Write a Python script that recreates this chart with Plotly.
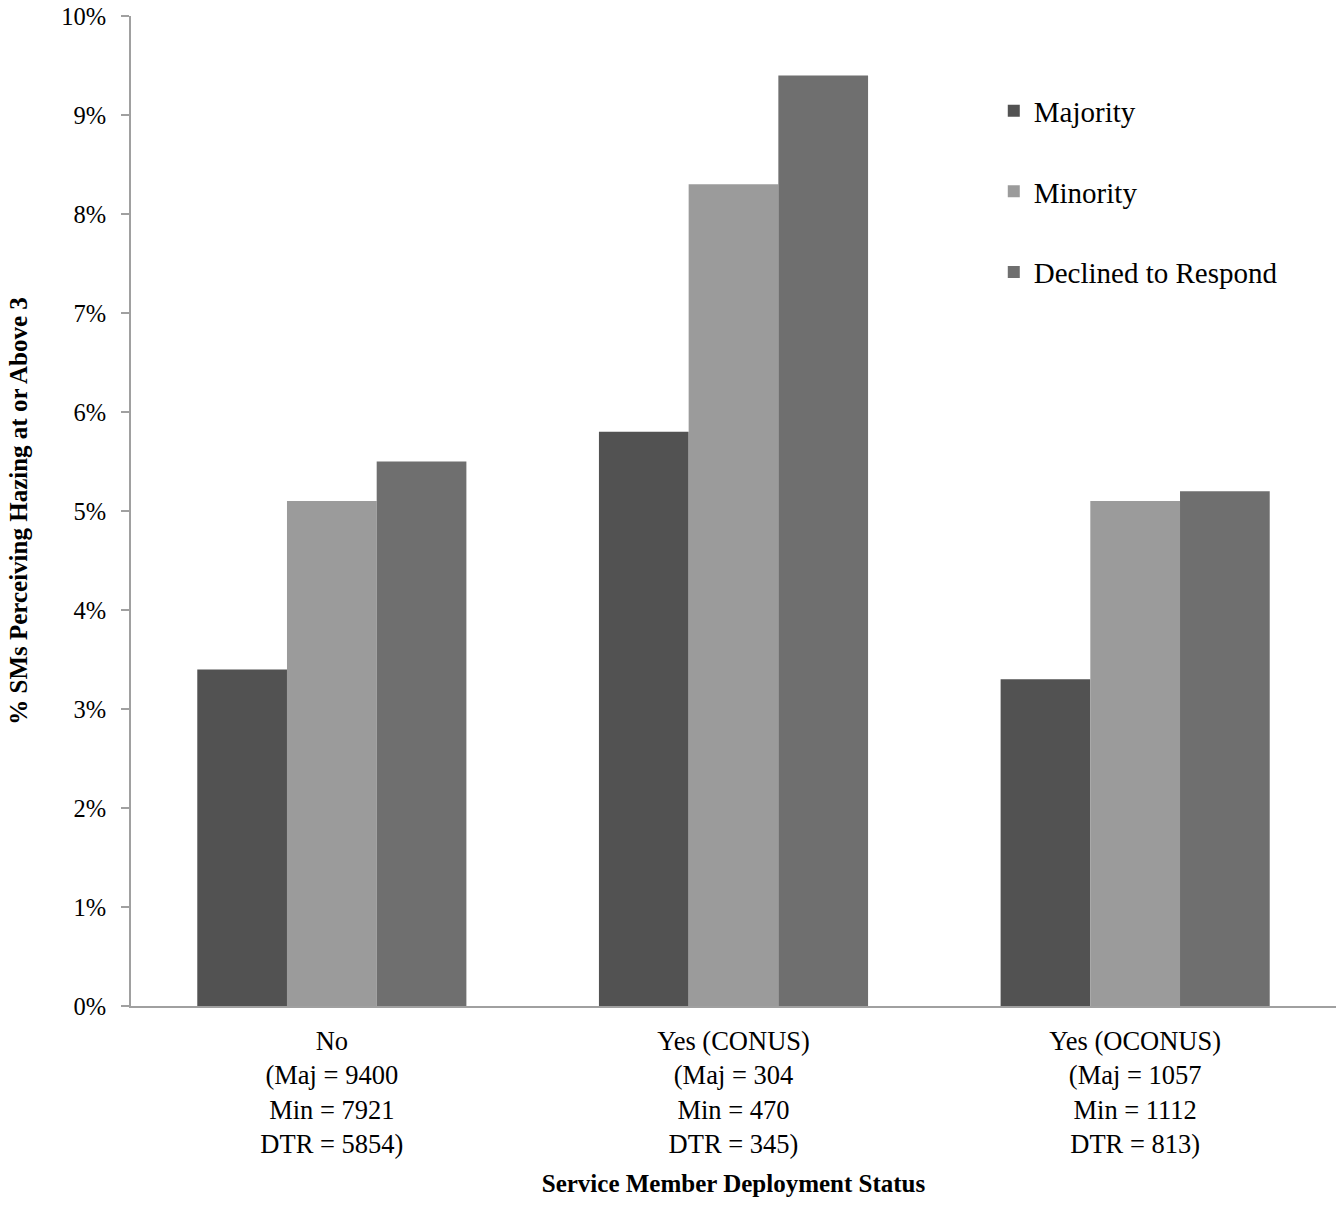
import plotly.graph_objects as go

categories = [
    "No<br>(Maj = 9400<br>Min = 7921<br>DTR = 5854)",
    "Yes (CONUS)<br>(Maj = 304<br>Min = 470<br>DTR = 345)",
    "Yes (OCONUS)<br>(Maj = 1057<br>Min = 1112<br>DTR = 813)",
]
majority = [0.034, 0.058, 0.033]
minority = [0.051, 0.083, 0.051]
declined = [0.055, 0.094, 0.052]

series_names = ["Majority", "Minority", "Declined to Respond"]
series_colors = ["#525252", "#9b9b9b", "#6f6f6f"]
tick_vals = [0, 0.01, 0.02, 0.03, 0.04, 0.05, 0.06, 0.07, 0.08, 0.09, 0.10]

FONT = "Liberation Serif, Times New Roman, serif"

fig = go.Figure()
for name, vals, col in zip(series_names, [majority, minority, declined], series_colors):
    fig.add_trace(go.Bar(
        x=categories, y=vals, name=name, legendgroup=name,
        marker=dict(color=col, line=dict(width=0)),
    ))

fig.update_layout(
    width=1336, height=1205,
    margin=dict(l=131, r=0, t=16, b=199, autoexpand=False),
    paper_bgcolor="white", plot_bgcolor="white",
    font=dict(family=FONT, color="black", size=24),
    barmode="group", bargap=0.33, bargroupgap=0,
    showlegend=True,
    legend=dict(
        x=0.716, y=0.93, xanchor="left", yanchor="top",
        font=dict(size=29, family=FONT),
        traceorder="grouped", tracegroupgap=40,
        bgcolor="rgba(0,0,0,0)",
    ),
    xaxis=dict(
        showline=True, linecolor="#a0a0a0", linewidth=2,
        ticks="", showgrid=False, zeroline=False,
        tickfont=dict(size=26.5, family=FONT),
        ticklabelstandoff=10,
        title=dict(text="<b>Service Member Deployment Status</b>",
                   font=dict(size=25, family=FONT), standoff=16),
        automargin=False,
    ),
    yaxis=dict(
        range=[0, 0.10], tickvals=tick_vals, tickformat=".0%",
        showline=True, linecolor="#a0a0a0", linewidth=2,
        ticks="outside", ticklen=8, tickcolor="#a0a0a0", tickwidth=2,
        showgrid=False, zeroline=False,
        tickfont=dict(size=24.5, family=FONT),
        ticklabelstandoff=10, ticklabeloverflow="allow",
        title=dict(text="<b>% SMs Perceiving Hazing at or Above 3</b>",
                   font=dict(size=25, family=FONT), standoff=26),
        automargin=False,
    ),
)

fig.write_html(
    "out.html",
    config={"displayModeBar": False},
    post_script="document.body.style.margin='0';document.body.style.overflow='hidden';",
)
